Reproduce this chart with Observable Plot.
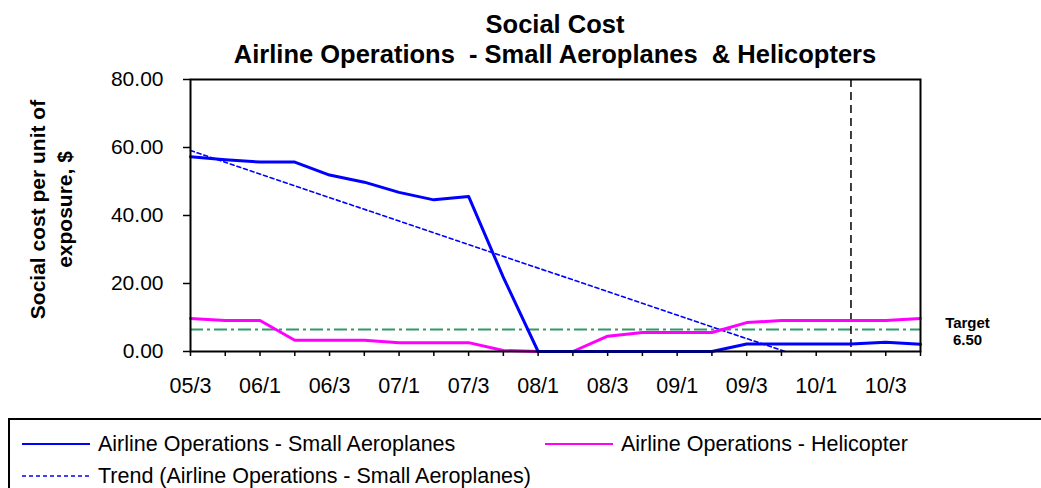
<!DOCTYPE html>
<html>
<head>
<meta charset="utf-8">
<script src="https://cdn.jsdelivr.net/npm/d3@7"></script>
<script src="https://cdn.jsdelivr.net/npm/@observablehq/plot@0.6"></script>
<style>
  body { margin: 0; background: white; font-family: "Liberation Sans", Arial, sans-serif; }
  #wrap { position: relative; width: 1041px; height: 488px; overflow: hidden; background: white; }
  #title { position: absolute; top: 9px; left: 555px; transform: translateX(-50%);
    font-weight: bold; font-size: 25.5px; line-height: 30px; text-align: center; white-space: pre; }
  #chart { position: absolute; left: 0; top: 0; }
  #legend { position: absolute; left: 8px; top: 418px; width: 1040px; height: 90px;
    border: 2px solid black; box-sizing: border-box; font-size: 21.5px; }
  .item { position: absolute; display: flex; align-items: center; white-space: nowrap; }
  .item svg { margin-right: 8px; }
</style>
</head>
<body>
<div id="wrap">
  <div id="chart"></div>
  <div id="title">Social Cost
Airline Operations  - Small Aeroplanes  &amp; Helicopters</div>
  <div id="legend"></div>
</div>
<script>
// quarters (year/quarter)
var quarters = ["05/3","05/4","06/1","06/2","06/3","06/4","07/1","07/2","07/3","07/4",
  "08/1","08/2","08/3","08/4","09/1","09/2","09/3","09/4","10/1","10/2","10/3","10/4"]

// social cost per unit of exposure, $
var aeroplanes = [57.3, 56.4, 55.7, 55.7, 51.9, 49.8, 46.8, 44.6, 45.6, 21.8, 0,
  0, 0, 0, 0, 0, 2.2, 2.2, 2.2, 2.2, 2.7, 2.1]
var helicopter = [9.7, 9.1, 9.1, 3.3, 3.3, 3.3, 2.6, 2.6, 2.6, 0.3, 0,
  0, 4.5, 5.6, 5.6, 5.6, 8.5, 9.1, 9.1, 9.1, 9.1, 9.7]

// trend line for small aeroplanes (start and where it meets 0)
var trendPos = [0, 17.1]
var trendVal = [59.1, 0]

var target = 6.5
var marker = "10/2"
var yTicks = [0, 20, 40, 60, 80]

var rows = quarters.map((q, i) => ({i: i, q: q, plane: aeroplanes[i], heli: helicopter[i]}))
var trend = trendPos.map((p, k) => ({i: p, v: trendVal[k]}))
var last = quarters.length - 1

var chart = Plot.plot({
  width: 1041,
  height: 419,
  marginTop: 79,
  marginBottom: 68,
  marginLeft: 190,
  marginRight: 121,
  style: {fontFamily: "Liberation Sans, Arial, sans-serif", fontSize: "21px", background: "white", overflow: "visible"},
  x: {domain: [0, last]},
  y: {domain: [0, 80]},
  marks: [
    Plot.ruleY([target], {stroke: "#339966", strokeWidth: 2, strokeDasharray: "13,4,3,4"}),
    Plot.ruleX([quarters.indexOf(marker)], {stroke: "black", strokeWidth: 1.5, strokeDasharray: "8,5"}),
    Plot.line(trend, {x: "i", y: "v", stroke: "#0000ff", strokeWidth: 1.6, strokeDasharray: "4,3"}),
    Plot.line(rows, {x: "i", y: "heli", stroke: "#ff00ff", strokeWidth: 3}),
    Plot.line(rows, {x: "i", y: "plane", stroke: "#0000ff", strokeWidth: 3}),
    Plot.axisX({
      ticks: rows.map(d => d.i),
      tickFormat: i => i % 2 === 0 ? quarters[i] : "",
      tickSize: 5, tickPadding: 21, strokeWidth: 1.5, fontSize: 21.5, label: null
    }),
    Plot.axisY({
      ticks: yTicks, tickFormat: d => d.toFixed(2),
      tickSize: 7, tickPadding: 20, strokeWidth: 1.5, fontSize: 21, label: null
    }),
    Plot.text(["Social cost per unit of\nexposure, $"], {
      frameAnchor: "left", textAnchor: "middle", text: d => d, rotate: -90, dx: -141, dy: -6,
      fontWeight: "bold", fontSize: 21, lineHeight: 1.28
    }),
    Plot.text([target], {
      x: () => last, y: d => d, text: d => "Target\n" + d.toFixed(2),
      dx: 47, dy: 2, fontWeight: "bold", fontSize: 15, lineHeight: 1.13
    }),
    Plot.frame({stroke: "black", strokeWidth: 2})
  ]
})
d3.select("#chart").append(() => chart)

// legend
var items = [
  {label: "Airline Operations - Small Aeroplanes", color: "#0000ff", dash: null, x: 12, y: 24},
  {label: "Airline Operations - Helicopter", color: "#ff00ff", dash: null, x: 535, y: 24},
  {label: "Trend (Airline Operations - Small Aeroplanes)", color: "#0000ff", dash: "4,3", x: 12, y: 56}
]
var legend = d3.select("#legend")
items.forEach(it => {
  var div = legend.append("div").attr("class", "item")
    .style("left", it.x + "px").style("top", (it.y - 13) + "px").style("height", "26px")
  var svg = div.append("svg").attr("width", 68).attr("height", 6)
  svg.append("line").attr("x1", 0).attr("x2", 68).attr("y1", 3).attr("y2", 3)
    .attr("stroke", it.color).attr("stroke-width", it.dash ? 1.6 : 2)
    .attr("stroke-dasharray", it.dash)
  div.append("span").text(it.label)
})
</script>
</body>
</html>
